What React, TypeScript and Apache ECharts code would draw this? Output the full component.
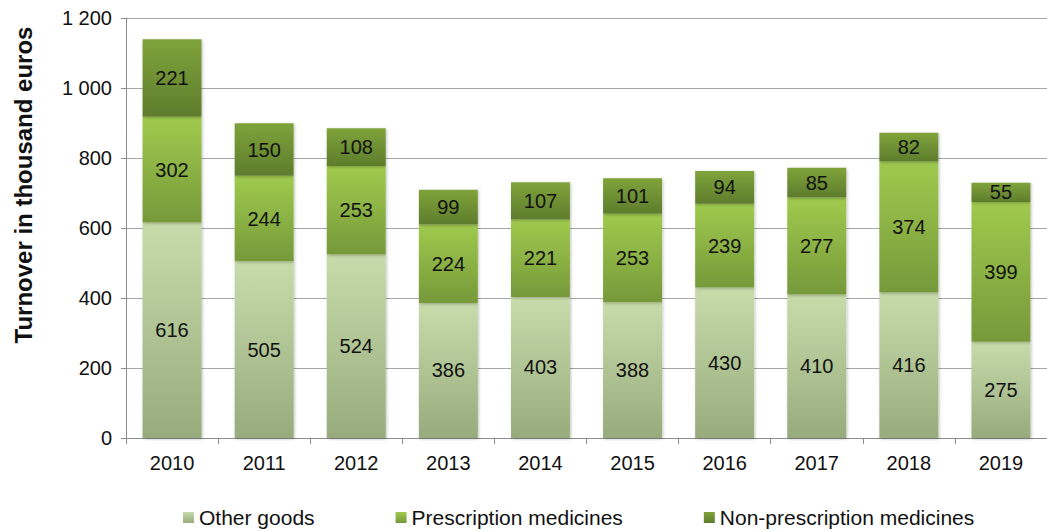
import React, { useEffect, useRef } from "react";
import * as echarts from "echarts";

const years = ["2010", "2011", "2012", "2013", "2014", "2015", "2016", "2017", "2018", "2019"];
const otherGoods = [616, 505, 524, 386, 403, 388, 430, 410, 416, 275];
const prescription = [302, 244, 253, 224, 221, 253, 239, 277, 374, 399];
const nonPrescription = [221, 150, 108, 99, 107, 101, 94, 85, 82, 55];

const grad = (top: string, bottom: string) =>
  new echarts.graphic.LinearGradient(0, 0, 0, 1, [
    { offset: 0, color: top },
    { offset: 1, color: bottom },
  ]);

const FONT = "'Liberation Sans', Arial, sans-serif";

export default function App() {
  const ref = useRef<HTMLDivElement>(null);
  useEffect(() => {
    if (!ref.current) return;
    const chart = echarts.init(ref.current, undefined, { renderer: "svg" });
    const mk = (name: string, data: number[], top: string, bottom: string) => ({
      name,
      type: "bar",
      stack: "total",
      data,
      barWidth: "64%",
      itemStyle: {
        color: grad(top, bottom),
        shadowColor: "rgba(0,0,0,0.25)",
        shadowBlur: 3,
        shadowOffsetX: 1,
        shadowOffsetY: 1,
      },
      label: {
        show: true,
        position: "inside",
        color: "#111",
        fontSize: 20,
        fontFamily: FONT,
      },
    });
    chart.setOption({
      animation: false,
      textStyle: { fontFamily: FONT },
      grid: { left: 126, right: 0, top: 18, bottom: 93 },
      graphic: [
        {
          type: "text",
          x: 23,
          y: 185,
          rotation: Math.PI / 2,
          style: {
            text: "Turnover in thousand euros",
            fontSize: 24,
            fontWeight: "bold",
            fill: "#111",
            fontFamily: FONT,
            align: "center",
            verticalAlign: "middle",
          },
        },
      ],
      legend: {
        top: 507,
        left: 183,
        padding: 0,
        itemWidth: 11,
        itemHeight: 11,
        itemGap: 81,
        textStyle: { fontSize: 21, color: "#111", fontFamily: FONT },
        data: [
          { name: "Other goods", icon: "rect" },
          { name: "Prescription medicines", icon: "rect" },
          { name: "Non-prescription medicines", icon: "rect" },
        ],
      },
      xAxis: {
        type: "category",
        data: years,
        axisLine: { lineStyle: { color: "#8c8c8c" } },
        axisTick: { show: true, alignWithLabel: false, length: 6, lineStyle: { color: "#8c8c8c" } },
        axisLabel: { fontSize: 20, color: "#111", margin: 15, fontFamily: FONT },
      },
      yAxis: {
        type: "value",
        min: 0,
        max: 1200,
        interval: 200,
        axisLine: { show: true, lineStyle: { color: "#8c8c8c" } },
        axisTick: { show: true, length: 5, lineStyle: { color: "#8c8c8c" } },
        axisLabel: {
          fontSize: 20,
          color: "#111",
          margin: 14,
          fontFamily: FONT,
          formatter: (v: number) => (v >= 1000 ? `${Math.floor(v / 1000)} ${String(v % 1000).padStart(3, "0")}` : String(v)),
        },
        splitLine: { lineStyle: { color: "#a6a6a6" } },
      },
      series: [
        mk("Other goods", otherGoods, "#c8dbab", "#97ab7c"),
        mk("Prescription medicines", prescription, "#a0ca4e", "#76993a"),
        mk("Non-prescription medicines", nonPrescription, "#7fa33b", "#5e7c2c"),
      ],
    });
    return () => chart.dispose();
  }, []);
  return <div ref={ref} style={{ position: "absolute", left: 0, top: 0, width: 1047, height: 531 }} />;
}
